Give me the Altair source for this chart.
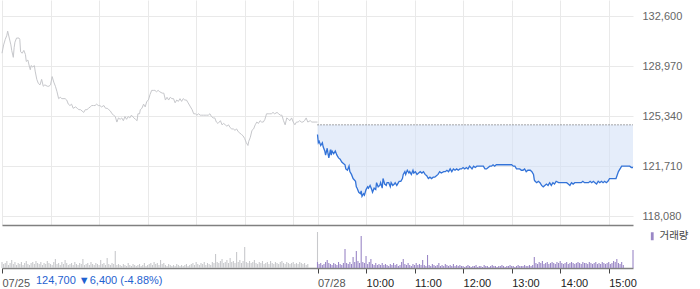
import altair as alt
import pandas as pd

# ---- 07/25 (previous day) intraday price: minutes after 09:00, price ----
prev_minutes = [0, 2, 4, 6, 7, 9, 11, 12, 14, 15, 16, 18, 21, 22, 23, 25, 27, 29, 30, 32,
                34, 35, 36, 38, 40, 41, 43, 45, 47, 49, 51, 53, 56, 58, 60, 62, 64, 66, 68, 70,
                72, 74, 78, 80, 82, 84, 86, 88, 91, 93, 95, 97, 99, 101, 103, 105, 107, 109, 111, 113,
                115, 117, 119, 121, 123, 126, 128, 130, 132, 134, 136, 138, 140, 142, 144, 146, 148, 150, 152, 154,
                156, 158, 160, 163, 165, 167, 168, 170, 171, 173, 175, 177, 179, 181, 183, 185, 187, 189, 191, 193,
                195, 198, 200, 202, 204, 206, 208, 210, 212, 214, 216, 218, 220, 222, 224, 226, 228, 230, 233, 235,
                237, 239, 241, 243, 245, 247, 249, 251, 253, 255, 257, 259, 261, 263, 265, 267, 270, 272, 274, 276,
                278, 280, 282, 284, 286, 288, 290, 292, 294, 296, 298, 300, 302, 304, 305, 307, 309, 311, 313, 315,
                317, 319, 321, 323, 325, 327, 329, 331, 333, 335, 337, 340, 342, 344, 346, 348, 350, 352, 354, 356,
                358, 360, 362, 364, 366, 368, 370, 372, 374, 376, 378, 381, 383, 387, 390]
prev_prices = [129900, 130500, 130900, 131200, 131500, 131000, 130500, 130100, 129600, 130300,
               130700, 131000, 131000, 130900, 130000, 129900, 130100, 129800, 129300, 129400,
               128900, 128700, 129000, 128900, 129000, 128600, 128000, 127700, 127600, 128000,
               127500, 127600, 127500, 127500, 127600, 128200, 127800, 127500, 127100, 126600,
               126700, 126600, 126600, 126500, 126200, 126100, 126200, 125900, 126000, 125900,
               125800, 125800, 125700, 125600, 125800, 125800, 125900, 126000, 126100, 126100,
               126100, 126200, 126100, 126100, 126000, 126100, 125900, 125900, 125800, 125700,
               125500, 125400, 125300, 124900, 125200, 125100, 125200, 125000, 125300, 125100,
               125300, 125200, 125400, 125200, 125100, 125000, 125500, 125500, 125800, 125900,
               126200, 126000, 126400, 126500, 126900, 127200, 127200, 127200, 127100, 127200,
               127100, 127000, 127000, 126500, 126700, 126500, 126700, 126600, 126600, 126300,
               126500, 126400, 126600, 126400, 126600, 126500, 126500, 126300, 126000, 125800,
               125500, 125500, 125400, 125500, 125400, 125400, 125400, 125400, 125400, 125400,
               125500, 125300, 125200, 125200, 124900, 124800, 125000, 124700, 124800, 124700,
               124600, 124700, 124500, 124400, 124400, 124300, 124400, 124200, 124100, 124000,
               123900, 123700, 123400, 123200, 123500, 123800, 124300, 124400, 124700, 124900,
               124800, 125000, 124900, 124900, 125100, 125500, 125500, 125500, 125500, 125600,
               125500, 125600, 125500, 125400, 125400, 125000, 124700, 125200, 125100, 125000,
               125200, 124900, 124700, 124900, 124900, 125000, 124900, 124900, 125000, 125200,
               124900, 125000, 124900, 124900, 124900]

# ---- 07/28 (today) intraday price ----
cur_minutes = [0, 1, 2, 4, 6, 7, 9, 10, 12, 13, 14, 16, 17, 18, 20, 22, 24, 26, 28, 30,
               32, 34, 35, 37, 39, 40, 42, 44, 47, 48, 49, 51, 53, 54, 55, 57, 58, 60, 62, 63,
               65, 67, 68, 70, 72, 73, 75, 77, 78, 80, 81, 83, 85, 86, 88, 90, 91, 93, 95, 96,
               98, 100, 101, 103, 105, 106, 108, 109, 111, 113, 114, 116, 118, 119, 121, 123, 125, 127, 129, 131,
               133, 135, 137, 139, 141, 143, 145, 147, 149, 151, 153, 156, 158, 160, 162, 164, 166, 168, 170, 172,
               174, 176, 178, 180, 182, 184, 186, 188, 191, 193, 195, 197, 199, 201, 203, 205, 207, 209, 211, 213,
               215, 217, 219, 221, 223, 226, 228, 230, 232, 234, 236, 238, 240, 242, 244, 246, 248, 250, 252, 254,
               256, 258, 260, 263, 265, 267, 268, 269, 271, 273, 275, 277, 279, 281, 283, 285, 287, 289, 291, 293,
               295, 298, 300, 302, 304, 306, 308, 310, 312, 314, 316, 318, 320, 322, 324, 326, 328, 330, 333, 335,
               337, 339, 341, 343, 345, 347, 349, 351, 353, 355, 357, 359, 361, 363, 365, 367, 369, 372, 374, 376,
               378, 380, 382, 384, 386, 388, 390]
cur_prices = [124000, 123400, 123500, 123200, 123400, 123100, 122800, 122500, 123000, 122600,
              122300, 122900, 122500, 122800, 122600, 122800, 122500, 122300, 122200, 122000,
              121900, 121800, 121500, 121400, 121700, 121300, 121100, 120800, 120600, 120200,
              120100, 119800, 119700, 119900, 119500, 119700, 119600, 120000, 120200, 120100,
              120300, 120000, 119800, 120100, 120000, 120500, 120200, 120300, 120500, 120100,
              120800, 120400, 120300, 120500, 120500, 120200, 120500, 120300, 120400, 120500,
              120300, 120500, 120600, 120600, 120800, 121100, 121300, 121100, 121400, 121200,
              121300, 121100, 121400, 121200, 121300, 121100, 121200, 121300, 121200, 121300,
              121100, 121000, 120800, 120900, 120800, 120900, 120900, 121000, 121100, 121300,
              121200, 121300, 121300, 121400, 121300, 121500, 121300, 121500, 121400, 121500,
              121400, 121500, 121500, 121600, 121500, 121600, 121500, 121700, 121500, 121700,
              121600, 121700, 121700, 121700, 121700, 121700, 121500, 121500, 121600, 121700,
              121700, 121800, 121700, 121800, 121800, 121800, 121800, 121800, 121800, 121800,
              121800, 121800, 121800, 121700, 121700, 121500, 121500, 121500, 121400, 121400,
              121500, 121300, 121400, 121400, 121300, 121100, 120700, 120600, 120500, 120600,
              120500, 120300, 120200, 120300, 120400, 120300, 120500, 120300, 120500, 120400,
              120600, 120500, 120500, 120500, 120500, 120500, 120500, 120400, 120300, 120500,
              120400, 120500, 120500, 120500, 120500, 120500, 120600, 120500, 120500, 120500,
              120600, 120500, 120600, 120500, 120400, 120600, 120500, 120600, 120500, 120600,
              120500, 120600, 120800, 120800, 120800, 120800, 120800, 121300, 121500, 121700,
              121700, 121700, 121700, 121700, 121700, 121600, 121600]

prev_close = 124700
price_ticks = [118080, 121710, 125340, 128970, 132600]

# ---- volume (thousand shares per 2-minute bin, 09:00-15:20) + closing auction ----
prev_volumes = [6, 4, 5, 7, 3, 5, 8, 4, 6, 3, 5,
                4, 6, 3, 5, 7, 4, 3, 5, 6, 4,
                7, 5, 4, 6, 3, 5, 4, 7, 5, 4, 3, 6,
                9, 4, 5, 3, 6, 4, 8, 5, 3,
                4, 5, 3, 6, 4, 3, 5, 4, 9, 3, 4, 5, 3, 6, 4, 3, 5, 4, 3, 8, 4, 5, 3, 10, 4, 3,
                5, 4, 17, 3, 4,
                3, 2, 4, 3, 2, 5, 3, 2, 4, 3, 2, 3, 4, 2, 3, 5, 2, 3,
                4, 5, 3, 6, 4, 5, 3, 8, 4, 5,
                3, 2, 4, 3, 2, 3, 2, 4, 3, 2, 3, 2, 3, 4, 2,
                3, 4, 5, 3, 6, 4, 3, 5, 4, 6, 3, 5, 4, 3, 6, 5,
                14,
                6, 5, 7, 9, 5, 6, 8, 5, 10, 6, 7, 5, 16, 6, 8, 5, 7, 21, 6, 5,
                7, 5, 6, 8, 5, 4, 6, 5, 7, 4, 5, 6, 4, 7, 5, 4, 6, 5, 4, 6, 7, 5, 4, 6, 5,
                4, 5, 6, 4, 5, 4, 6, 5, 4, 5, 3, 4]
prev_close_volume = 36
cur_volumes = [6, 4, 5, 3, 4, 6, 8, 5, 4,
               3, 5, 4, 3, 6, 4, 3, 5,
               19,
               5, 4, 6, 4,
               11, 6, 17, 7, 5, 32, 6, 5, 12, 4, 6, 9,
               4, 3, 5, 3, 4, 3, 5,
               3, 4, 3, 2, 4, 3, 5, 3, 4, 2, 3, 6,
               9,
               4, 3, 5, 3, 2, 4, 3, 5, 3, 4, 3, 8, 3, 2,
               13,
               3, 2, 4, 3, 2, 3, 5, 2, 3, 2, 4, 3, 2, 3, 2, 4, 2, 3, 2, 3, 2,
               2, 1, 2, 3, 2, 1, 2, 2, 3, 1, 2, 2, 1, 3, 2, 2, 1, 2, 3, 2, 2, 1,
               2, 2, 3, 2, 1, 2, 2, 3, 2, 2, 1, 2, 3, 2, 2, 2, 3, 2, 2, 3, 2, 3,
               11,
               5, 4, 6, 5, 7, 4, 5, 6, 4, 5, 6, 5, 4, 6, 5, 7, 5, 4, 5, 6, 4, 5, 6, 5, 4,
               5, 6, 5, 4, 6, 5, 5, 4, 6, 5, 4, 5, 6, 4, 5, 4, 6, 5, 4, 5, 6, 4, 5, 7, 6,
               9, 5, 4, 6, 3]
cur_close_volume = 18
bin_minutes = list(range(0, 380, 2)) + [390]

time_ticks = [0, 390, 450, 510, 570, 630, 690, 750]
grid_ticks = [0, 60, 120, 180, 240, 300, 360, 390, 450, 510, 570, 630, 690, 750]
change_text = "124,700 ▼6,400 (-4.88%)"
volume_label = "거래량"

DAY = 390
prev_df = pd.DataFrame({"t": prev_minutes, "price": prev_prices})
cur_df = pd.DataFrame({"t": [m + DAY for m in cur_minutes], "price": cur_prices})
base_df = pd.DataFrame({"t0": [DAY], "t1": [2 * DAY], "p": [prev_close]})
vprev_df = pd.DataFrame({"t": bin_minutes, "vol": prev_volumes + [prev_close_volume]})
vcur_df = pd.DataFrame({"t": [m + DAY for m in bin_minutes], "vol": cur_volumes + [cur_close_volume],
                        "s": volume_label})
txt_df = pd.DataFrame({"txt": [change_text]})

FONT = "Liberation Sans"
xs = alt.Scale(domain=[0, 2 * DAY], nice=False)
ys = alt.Scale(domain=[117426.6, 133761.6], nice=False, zero=False)

price_x_axis = alt.Axis(values=grid_ticks, grid=True, gridColor="#e9e9e9", labels=False, ticks=False,
                        domain=True, domainColor="#808080", domainWidth=1.5, title=None)
price_y_axis = alt.Axis(orient="right", values=price_ticks, format=",d", grid=True, gridColor="#e9e9e9",
                        domain=False, ticks=False, labelPadding=9, labelFontSize=11, labelFont=FONT,
                        labelColor="#666666", title=None)

X = alt.X("t:Q", scale=xs, axis=price_x_axis)
Y = alt.Y("price:Q", scale=ys, axis=price_y_axis)

area = alt.Chart(cur_df).mark_area(color="#d4e1f6", opacity=0.6).encode(
    x=X, y=Y, y2=alt.datum(prev_close))
base_line = alt.Chart(base_df).mark_rule(color="#555555", strokeDash=[1, 2], strokeWidth=1).encode(
    x=alt.X("t0:Q", scale=xs, axis=price_x_axis), x2="t1:Q",
    y=alt.Y("p:Q", scale=ys, axis=price_y_axis))
prev_line = alt.Chart(prev_df).mark_line(color="#c6c7cb", strokeWidth=1).encode(x=X, y=Y)
cur_line = alt.Chart(cur_df).mark_line(color="#3373d8", strokeWidth=1.3).encode(x=X, y=Y)

price_chart = alt.layer(area, base_line, prev_line, cur_line).properties(width=631, height=225)

vol_x_axis = alt.Axis(values=time_ticks,
                      labelExpr="datum.value == 0 ? '07/25' : datum.value == 390 ? '07/28' : "
                                "(floor((datum.value - 390) / 60) + 9) + ':00'",
                      labelAlign="left", labelPadding=4, labelFontSize=11, labelFont=FONT,
                      labelColor={"condition": {"test": "datum.value == 0 || datum.value == 390",
                                                "value": "#555555"}, "value": "#222222"},
                      labelOverlap=False, labelFlush=False,
                      tickSize=5, tickColor="#444444", domainColor="#808080", domainWidth=1.5,
                      grid=False, title=None)
VX = alt.X("t:Q", scale=xs, axis=vol_x_axis)
VY = alt.Y("vol:Q", scale=alt.Scale(domain=[0, 43], nice=False), axis=None)

vprev = alt.Chart(vprev_df).mark_rule(color="#c8c9cc", strokeWidth=1.1).encode(
    x=VX, y=VY, y2=alt.datum(0))
vcur = alt.Chart(vcur_df).mark_rule(strokeWidth=1.1).encode(
    x=VX, y=VY, y2=alt.datum(0),
    color=alt.Color("s:N", scale=alt.Scale(range=["#9a87c6"]),
                    legend=alt.Legend(title=None, orient="none", legendX=645, legendY=231,
                                      symbolType="M-0.35,-1L0.35,-1L0.35,1L-0.35,1Z", symbolSize=64,
                                      symbolFillColor="#9a87c6", symbolStrokeWidth=0,
                                      labelFontSize=10.5, labelFont="Noto Sans CJK KR",
                                      labelColor="#444444", labelOffset=2)))
note = alt.Chart(txt_df).mark_text(align="left", baseline="middle", fontSize=11, font=FONT,
                                   color="#1f62d0").encode(
    x=alt.value(34), y=alt.value(56), text="txt:N")

vol_chart = alt.layer(vprev, vcur, note).properties(width=631, height=43)

chart = alt.VConcatChart(vconcat=[price_chart, vol_chart], spacing=0, bounds="flush").properties(
    padding={"left": 0, "top": 0, "right": 0, "bottom": 0}
).configure_view(stroke=None)

chart.save("out.html", embed_options={"renderer": "svg", "actions": False})
